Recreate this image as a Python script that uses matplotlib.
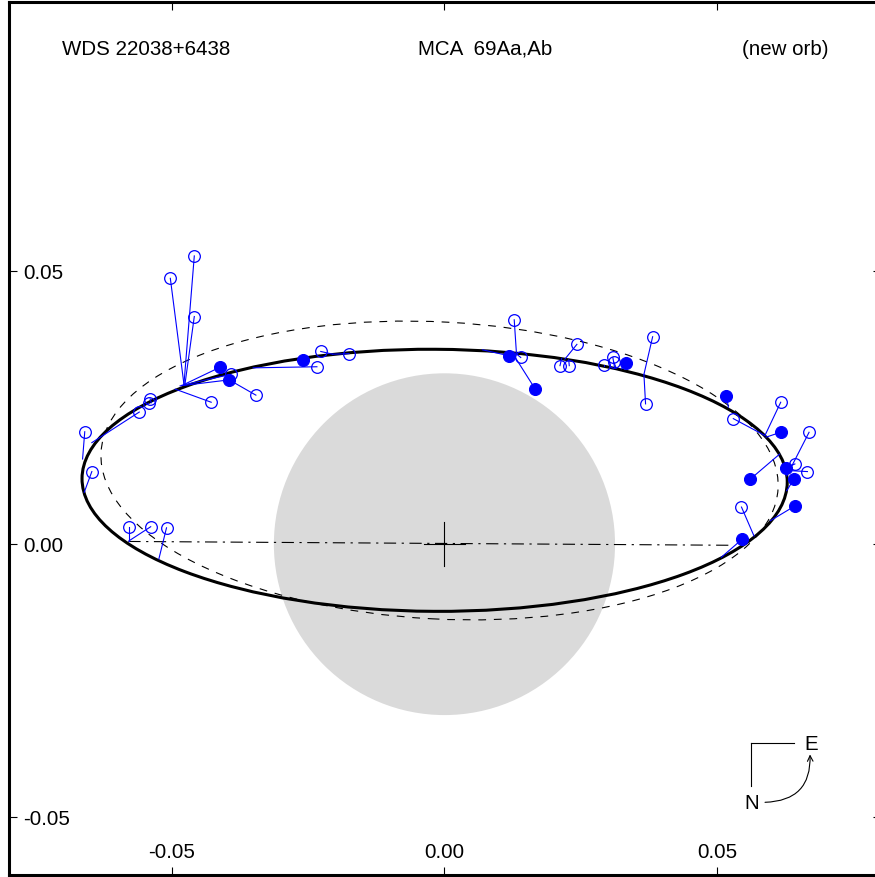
import matplotlib
matplotlib.use("Agg")
import matplotlib.pyplot as plt
from matplotlib.patches import Ellipse, Circle

plt.rcParams['font.family'] = ['Liberation Sans', 'DejaVu Sans']

# orbit ellipses: centre, semi-axes, tilt (deg)
new_orb = dict(center=(-0.0018, 0.0117), a=0.0647, b=0.0240, angle=-0.3)
old_orb = dict(center=(-0.0009, 0.0135), a=0.0622, b=0.0272, angle=-3.05)
circle_r = 0.0313
nodes_x = [-0.0580, 0.0530]
nodes_y = [0.0005, -0.0002]

# open symbols: observed position and computed position on the orbit
open_x = [-0.0459, -0.0503, -0.0459, -0.0428, -0.0392, -0.0346, -0.0540, -0.0543,
          -0.0560, -0.0660, -0.0647, -0.0579, -0.0539, -0.0510, -0.0227, -0.0175,
          -0.0234, 0.0128, 0.0140, 0.0243, 0.0212, 0.0229, 0.0293, 0.0309,
          0.0311, 0.0382, 0.0369, 0.0530, 0.0617, 0.0669, 0.0643, 0.0666, 0.0545]
open_y = [0.0528, 0.0487, 0.0417, 0.0260, 0.0311, 0.0273, 0.0266, 0.0258,
          0.0242, 0.0206, 0.0133, 0.0032, 0.0032, 0.0030, 0.0353, 0.0349,
          0.0325, 0.0411, 0.0342, 0.0366, 0.0327, 0.0327, 0.0328, 0.0342,
          0.0333, 0.0380, 0.0257, 0.0230, 0.0260, 0.0205, 0.0147, 0.0133, 0.0068]
open_cx = [-0.0478, -0.0478, -0.0476, -0.0494, -0.0482, -0.0395, -0.0538, -0.0545,
           -0.0647, -0.0664, -0.0661, -0.0579, -0.0579, -0.0524, -0.0205, -0.0205,
           -0.0351, 0.0132, 0.0130, 0.0221, 0.0215, 0.0228, 0.0293, 0.0312,
           0.0315, 0.0366, 0.0366, 0.0588, 0.0588, 0.0628, 0.0628, 0.0629, 0.0568]
open_cy = [0.0293, 0.0293, 0.0294, 0.0284, 0.0291, 0.0301, 0.0259, 0.0256,
           0.0186, 0.0156, 0.0095, 0.0006, 0.0006, -0.0027, 0.0348, 0.0348,
           0.0323, 0.0351, 0.0350, 0.0339, 0.0340, 0.0338, 0.0327, 0.0324,
           0.0323, 0.0311, 0.0311, 0.0199, 0.0199, 0.0125, 0.0140, 0.0135, 0.0015]

# filled symbols
fill_x = [-0.0412, -0.0395, -0.0260, 0.0119, 0.0166, 0.0333, 0.0517, 0.0617,
          0.0561, 0.0627, 0.0641, 0.0643, 0.0546]
fill_y = [0.0324, 0.0301, 0.0338, 0.0345, 0.0285, 0.0331, 0.0272, 0.0205,
          0.0119, 0.0139, 0.0119, 0.0070, 0.0009]
fill_cx = [-0.0479, -0.0485, -0.0260, 0.0070, 0.0128, 0.0325, 0.0521, 0.0590,
           0.0615, 0.0627, 0.0628, 0.0598, 0.0508]
fill_cy = [0.0292, 0.0290, 0.0340, 0.0356, 0.0345, 0.0321, 0.0251, 0.0196,
           0.0165, 0.0139, 0.0098, 0.0043, -0.0024]

ticks = [-0.05, 0.0, 0.05]
tick_labels = ['-0.05', '0.00', '0.05']

fig = plt.figure(figsize=(8.75, 8.78), dpi=100)
ax = fig.add_axes([9 / 875, 2.5 / 878, 872 / 875, 873 / 878])
ax.set_xlim(-0.0799, 0.0801)
ax.set_ylim(-0.0605, 0.0994)

ax.add_patch(Circle((0, 0), circle_r, facecolor='#dadada', edgecolor='none', zorder=1))
ax.plot(nodes_x, nodes_y, color='black', lw=0.8, linestyle=(0, (11, 5, 2, 5)), zorder=2)
ax.add_patch(Ellipse(old_orb['center'], 2 * old_orb['a'], 2 * old_orb['b'], angle=old_orb['angle'],
                     fill=False, edgecolor='black', lw=0.8, linestyle=(0, (7, 7)), zorder=2))
ax.plot([-0.0038, 0.0038], [0, 0], color='black', lw=0.8, zorder=3)
ax.plot([0, 0], [-0.0040, 0.0040], color='black', lw=0.8, zorder=3)
ax.add_patch(Ellipse(new_orb['center'], 2 * new_orb['a'], 2 * new_orb['b'], angle=new_orb['angle'],
                     fill=False, edgecolor='black', lw=2.2, zorder=3))

# O-C lines
for xo, yo, xc, yc in zip(open_x + fill_x, open_y + fill_y, open_cx + fill_cx, open_cy + fill_cy):
    ax.plot([xo, xc], [yo, yc], color='blue', lw=0.8, zorder=4)
ax.plot(open_x, open_y, 'o', ms=8.4, mfc='none', mec='blue', mew=0.9, zorder=5)
ax.plot(fill_x, fill_y, 'o', ms=8.6, mfc='blue', mec='blue', mew=0.8, zorder=5)

# frame and ticks
for s in ax.spines.values():
    s.set_linewidth(2.2)
ax.set_xticks(ticks)
ax.set_yticks(ticks)
ax.tick_params(direction='in', length=5.5, width=0.8, top=True, right=True,
               labelbottom=False, labelleft=False)
for t, lab in zip(ticks, tick_labels):
    ax.annotate(lab, xy=(t, 0), xycoords=('data', 'axes fraction'), xytext=(0, 12.4),
                textcoords='offset points', ha='center', va='baseline', fontsize=14.8)
    ax.annotate(lab, xy=(0, t), xycoords=('axes fraction', 'data'), xytext=(10.3, -4.9),
                textcoords='offset points', ha='left', va='baseline', fontsize=14.8)

# header
ax.text(0.0608, 0.9399, 'WDS 22038+6438', transform=ax.transAxes, fontsize=14.8, va='baseline')
ax.text((418 - 9) / 872, 0.9399, 'MCA  69Aa,Ab', transform=ax.transAxes, fontsize=14.8, va='baseline')
ax.text((829 - 9) / 872, 0.9399, '(new orb)', transform=ax.transAxes, fontsize=14.8,
        va='baseline', ha='right')

# compass
ax.plot([0.8506, 0.9006], [0.1506, 0.1506], color='black', lw=0.8, transform=ax.transAxes)
ax.plot([0.8506, 0.8506], [0.1506, 0.1014], color='black', lw=0.8, transform=ax.transAxes)
ax.text(0.920, 0.1506, 'E', transform=ax.transAxes, fontsize=14.8, ha='center', va='center')
ax.text(0.8517, 0.0827, 'N', transform=ax.transAxes, fontsize=14.8, ha='center', va='center')
ax.annotate('', xy=(0.9186, 0.1375), xycoords='axes fraction', xytext=(0.867, 0.0827),
            textcoords='axes fraction',
            arrowprops=dict(arrowstyle='->', lw=0.8, color='black',
                            connectionstyle='arc3,rad=0.5', shrinkA=0, shrinkB=0))

fig.savefig('out.png', dpi=100)
